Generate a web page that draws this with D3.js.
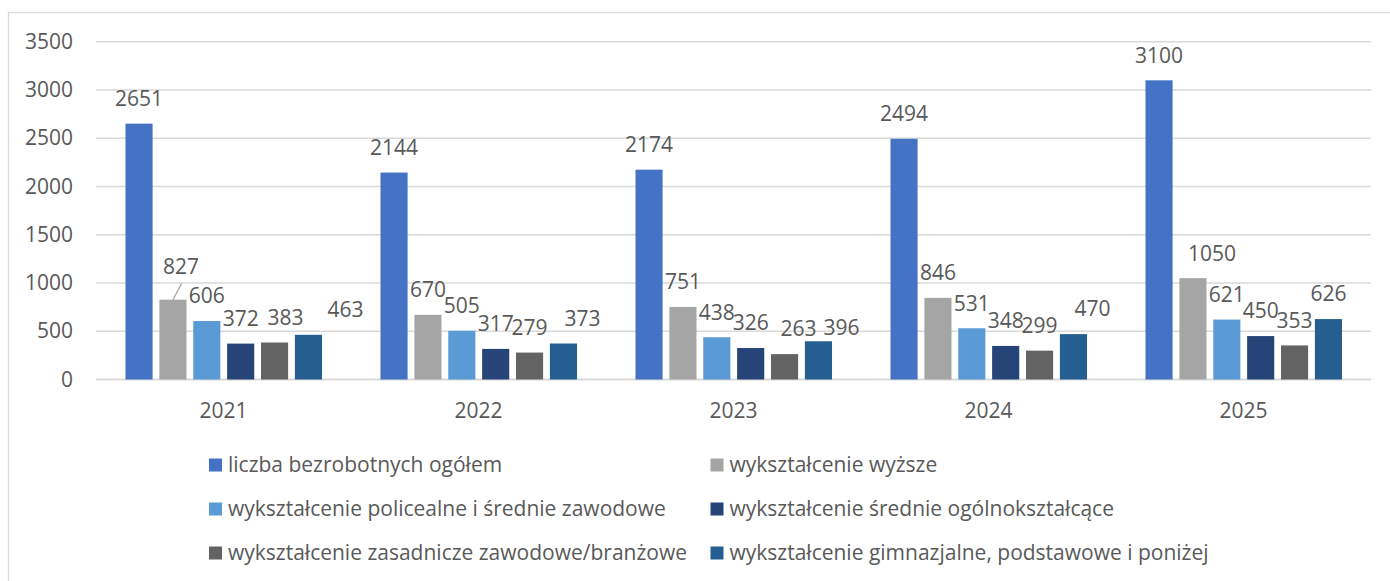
<!DOCTYPE html>
<html>
  <head>
    <meta charset="UTF-8" />
    <style>
      body {
        margin: 0;
        background: #fff;
      }
      text {
        font-family: "Open Sans", "Noto Sans", sans-serif;
        fill: #595959;
      }
    </style>
  </head>
  <body>
    <svg></svg>
    <script src="https://d3js.org/d3.v7.min.js"></script>

    <script>
      let width = 1390,
        height = 581;

      // data
      const years = ["2021", "2022", "2023", "2024", "2025"];
      const seriesNames = [
        "liczba bezrobotnych ogółem",
        "wykształcenie wyższe",
        "wykształcenie policealne i średnie zawodowe",
        "wykształcenie średnie ogólnokształcące",
        "wykształcenie zasadnicze zawodowe/branżowe",
        "wykształcenie gimnazjalne, podstawowe i poniżej",
      ];
      const ogolem = [2651, 2144, 2174, 2494, 3100];
      const wyzsze = [827, 670, 751, 846, 1050];
      const policealne = [606, 505, 438, 531, 621];
      const srednieOgolne = [372, 317, 326, 348, 450];
      const zasadnicze = [383, 279, 263, 299, 353];
      const gimnazjalne = [463, 373, 396, 470, 626];
      const yTicks = [0, 500, 1000, 1500, 2000, 2500, 3000, 3500];

      const allSeries = [ogolem, wyzsze, policealne, srednieOgolne, zasadnicze, gimnazjalne];
      const colors = ["#4472C4", "#A5A5A5", "#5B9BD5", "#264478", "#636363", "#255E91"];

      // labels that excel moved away from the default spot (series, year, dx, dy)
      const labelNudges = [
        [1, 0, 8, -8.5],
        [4, 0, 11, 0],
        [5, 0, 37, 0],
        [5, 1, 19, 0],
        [4, 2, 14, 0],
        [5, 2, 23, 11],
        [5, 3, 19, 0],
        [1, 4, 19, 0],
      ];

      let svg = d3
        .select("svg")
        .attr("width", width)
        .attr("height", height);

      // outer chart frame (right and bottom edges run past the picture)
      svg
        .append("rect")
        .attr("x", 8.5)
        .attr("y", 12.5)
        .attr("width", 1500)
        .attr("height", 700)
        .attr("fill", "none")
        .attr("stroke", "#d9d9d9")
        .attr("stroke-width", 1.3);

      const x0 = d3.scaleBand().domain(years).range([96, 1371]);
      const x1 = d3
        .scaleBand()
        .domain(d3.range(seriesNames.length))
        .range([29.5, 226])
        .paddingInner(0.2);
      const y = d3.scaleLinear().domain([0, 3500]).range([379.5, 41.7]);

      // gridlines
      svg
        .append("g")
        .selectAll("line")
        .data(yTicks)
        .enter()
        .append("line")
        .attr("x1", 96)
        .attr("x2", 1371)
        .attr("y1", (d) => y(d))
        .attr("y2", (d) => y(d))
        .attr("stroke", "#d9d9d9")
        .attr("stroke-width", (d) => (d == 0 ? 1.8 : 1.5));

      // y axis labels
      let yAxis = svg
        .append("g")
        .attr("transform", "translate(96,0)")
        .call(
          d3
            .axisLeft(y)
            .tickValues(yTicks)
            .tickFormat(d3.format("d"))
            .tickSize(0)
            .tickPadding(23)
        );
      yAxis.select(".domain").remove();
      yAxis.selectAll("text").style("font-size", "21px").attr("fill", "#595959");

      // x axis labels
      let xAxis = svg
        .append("g")
        .attr("transform", "translate(0," + y(0) + ")")
        .call(d3.axisBottom(x0).tickSize(0).tickPadding(24));
      xAxis.select(".domain").remove();
      xAxis.selectAll("text").style("font-size", "21px").attr("fill", "#595959");

      // flatten to one record per bar
      let bars = [];
      allSeries.forEach((vals, s) => {
        vals.forEach((v, i) => {
          bars.push({ s: s, year: years[i], yi: i, value: v, dx: 0, dy: 0 });
        });
      });
      labelNudges.forEach((n) => {
        let b = bars.find((d) => d.s == n[0] && d.yi == n[1]);
        b.dx = n[2];
        b.dy = n[3];
      });

      svg
        .append("g")
        .selectAll("rect")
        .data(bars)
        .enter()
        .append("rect")
        .attr("x", (d) => x0(d.year) + x1(d.s))
        .attr("y", (d) => y(d.value))
        .attr("width", x1.bandwidth())
        .attr("height", (d) => y(0) - y(d.value))
        .attr("fill", (d) => colors[d.s]);

      // leader line for the moved 827 label
      let lead = bars.find((d) => d.s == 1 && d.yi == 0);
      let lx = x0(lead.year) + x1(lead.s) + x1.bandwidth() / 2;
      svg
        .append("line")
        .attr("x1", lx)
        .attr("y1", y(lead.value))
        .attr("x2", lx + 8.5)
        .attr("y2", y(lead.value) - 16)
        .attr("stroke", "#a6a6a6")
        .attr("stroke-width", 1.3);

      // value labels
      svg
        .append("g")
        .selectAll("text")
        .data(bars)
        .enter()
        .append("text")
        .attr("x", (d) => x0(d.year) + x1(d.s) + x1.bandwidth() / 2 + d.dx)
        .attr("y", (d) => y(d.value) - 25 + d.dy)
        .attr("dy", "0.35em")
        .attr("text-anchor", "middle")
        .style("font-size", "21px")
        .text((d) => d.value);

      // legend, two columns
      let legend = svg.append("g").attr("id", "legend");
      let items = legend
        .selectAll("g")
        .data(seriesNames)
        .enter()
        .append("g")
        .attr("transform", (d, i) => {
          let col = i % 2,
            row = Math.floor(i / 2);
          return "translate(" + (col == 0 ? 209 : 710.5) + "," + (465 + row * 44) + ")";
        });
      items
        .append("rect")
        .attr("x", 0)
        .attr("y", -6.5)
        .attr("width", 13)
        .attr("height", 13)
        .attr("fill", (d, i) => colors[i]);
      items
        .append("text")
        .attr("x", 19)
        .attr("y", 0)
        .attr("dy", "0.35em")
        .style("font-size", "21px")
        .text((d) => d);
    </script>
  </body>
</html>
